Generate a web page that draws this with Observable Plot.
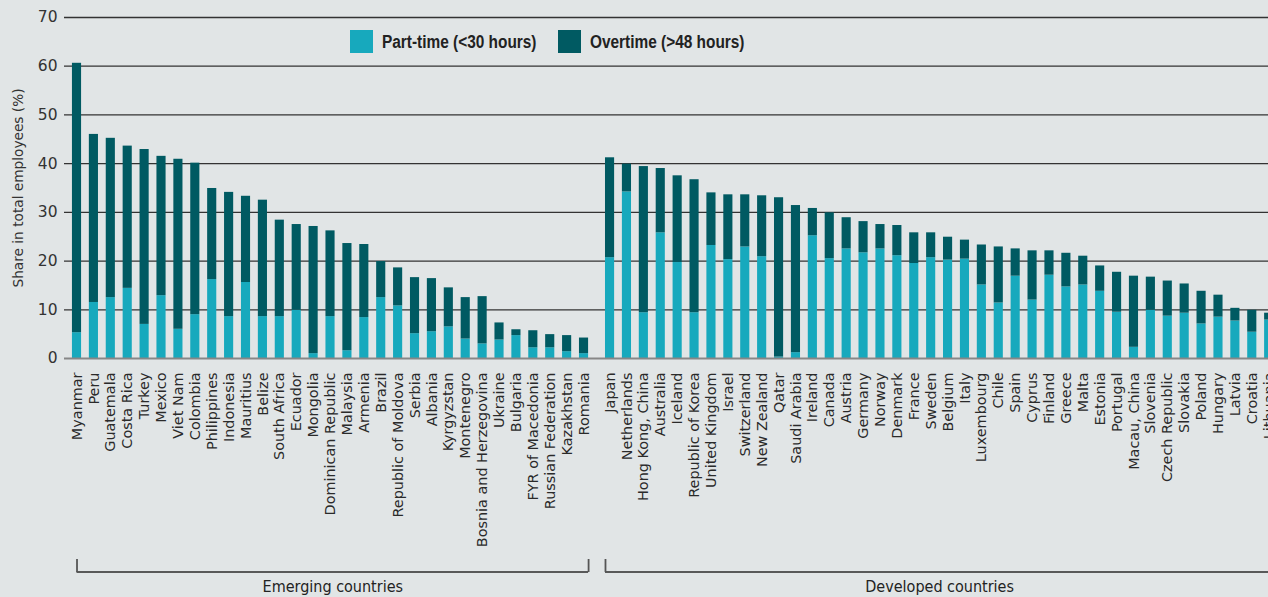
<!DOCTYPE html>
<html>
<head>
<meta charset="utf-8">
<script src="https://cdn.jsdelivr.net/npm/d3@7"></script>
<script src="https://cdn.jsdelivr.net/npm/@observablehq/plot@0.6"></script>
<style>
html, body { margin: 0; padding: 0; background: #e1e5e6; }
#wrap { position: relative; width: 1268px; height: 597px; overflow: hidden; background: #e1e5e6; }
#legend { position: absolute; left: 350px; top: 30px; display: flex; align-items: center; z-index: 2;
  font-family: "Liberation Sans", Arial, sans-serif; font-weight: bold; font-size: 18.8px; color: #222; white-space: nowrap; }
#legend .item { display: flex; align-items: center; margin-right: 21px; }
#legend .sw { width: 23px; height: 23px; margin-right: 9px; flex: none; }
#legend .lab { display: inline-block; transform: scaleX(0.82); transform-origin: 0 50%; }
</style>
</head>
<body>
<div id="wrap"><div id="legend"></div></div>
<script>
const emerging = ["Myanmar","Peru","Guatemala","Costa Rica","Turkey","Mexico","Viet Nam","Colombia","Philippines","Indonesia","Mauritius","Belize","South Africa","Ecuador","Mongolia","Dominican Republic","Malaysia","Armenia","Brazil","Republic of Moldova","Serbia","Albania","Kyrgyzstan","Montenegro","Bosnia and Herzegovina","Ukraine","Bulgaria","FYR of Macedonia","Russian Federation","Kazakhstan","Romania"];
const emergingPartTime = [5.3,11.5,12.5,14.4,7.0,12.9,6.0,9.0,16.2,8.6,15.6,8.6,8.6,9.9,1.0,8.6,1.6,8.4,12.5,10.8,5.1,5.5,6.5,4.0,3.0,3.8,4.7,2.2,2.2,1.4,1.0];
const emergingOvertime = [55.3,34.5,32.7,29.2,35.9,28.6,34.9,31.1,18.7,25.5,17.7,23.9,19.8,17.6,26.1,17.6,22.0,15.0,7.4,7.8,11.5,10.9,8.0,8.5,9.7,3.5,1.2,3.5,2.7,3.3,3.2];

const developed = ["Japan","Netherlands","Hong Kong, China","Australia","Iceland","Republic of Korea","United Kingdom","Israel","Switzerland","New Zealand","Qatar","Saudi Arabia","Ireland","Canada","Austria","Germany","Norway","Denmark","France","Sweden","Belgium","Italy","Luxembourg","Chile","Spain","Cyprus","Finland","Greece","Malta","Estonia","Portugal","Macau, China","Slovenia","Czech Republic","Slovakia","Poland","Hungary","Latvia","Croatia","Lithuania"];
const developedPartTime = [20.7,34.2,9.4,25.8,19.7,9.4,23.2,20.3,22.9,20.9,0.3,1.2,25.2,20.5,22.5,21.7,22.5,21.1,19.5,20.7,20.2,20.4,15.1,11.4,16.9,12.0,17.1,14.7,15.1,13.8,9.5,2.3,9.9,8.7,9.3,7.1,8.5,7.7,5.4,7.9];
const developedOvertime = [20.5,5.7,30.0,13.2,17.8,27.3,10.8,13.3,10.7,12.5,32.7,30.2,5.6,9.4,6.4,6.4,5.0,6.2,6.3,5.1,4.7,3.9,8.2,11.5,5.6,10.1,5.0,6.9,5.9,5.2,8.2,14.6,6.8,7.2,6.0,6.7,4.5,2.6,4.5,1.4];

const groupNames = ["Emerging countries", "Developed countries"];
const seriesNames = ["Part-time (<30 hours)", "Overtime (>48 hours)"];
const seriesColors = ["#17a9bd", "#005a62"];
const yTicks = [0, 10, 20, 30, 40, 50, 60, 70];

// layout constants (not data)
const groupGap = 0.54;   // extra space between the two groups, in bar steps
const half = 0.27;       // half bar width, in bar steps

const groups = [
  {name: groupNames[0], countries: emerging, pt: emergingPartTime, ot: emergingOvertime},
  {name: groupNames[1], countries: developed, pt: developedPartTime, ot: developedOvertime}
];

const rows = [];
const bars = [];
const brackets = [];
let offset = 0;
groups.forEach((g, gi) => {
  const start = offset;
  g.countries.forEach((c, i) => {
    const pos = offset + i;
    rows.push({country: c, pos});
    const pt = g.pt[i], ot = g.ot[i];
    bars.push({country: c, pos, series: seriesNames[0], y1: 0, y2: pt});
    bars.push({country: c, pos, series: seriesNames[1], y1: pt, y2: pt + ot});
  });
  const end = offset + g.countries.length - 1;
  const x1 = gi === 0 ? start : start - half;
  const x2 = end + half;
  brackets.push({name: g.name, x1, x2, mid: (x1 + x2) / 2});
  offset = end + 1 + groupGap;
});
const bracketEnds = brackets.flatMap(b => [{x: b.x1}, {x: b.x2}]);

const chart = Plot.plot({
  width: 1268,
  height: 597,
  marginLeft: 64,
  marginRight: 0,
  marginTop: 17,
  marginBottom: 239,
  x: {type: "linear", domain: [-0.74, 70.5], axis: null},
  y: {domain: [0, 70], axis: null},
  color: {domain: seriesNames, range: seriesColors},
  style: {background: "#e1e5e6", fontFamily: "'DejaVu Sans', sans-serif", color: "#333", overflow: "hidden"},
  marks: [
    Plot.gridY(yTicks.filter(d => d > 0), {stroke: "#333", strokeOpacity: 1, strokeWidth: 1.3}),
    Plot.rectY(bars, {x1: d => d.pos - half, x2: d => d.pos + half, y1: "y1", y2: "y2", fill: "series"}),
    Plot.ruleY([0], {stroke: "#878787", strokeWidth: 2.2}),
    Plot.axisY(yTicks, {tickSize: 0, tickPadding: 7, fontSize: 15.5, label: null, fill: "#333"}),
    Plot.axisY({ticks: [], tickSize: 0, label: "Share in total employees (%)", labelArrow: "none", labelAnchor: "center", labelOffset: 51, fontSize: 13.7, fill: "#333"}),
    Plot.text(rows, {x: "pos", y: 0, text: "country", rotate: -90, textAnchor: "end", lineAnchor: "middle", dy: 14, fontSize: 14.4, fill: "#2a2a2a", fontFamily: "'DejaVu Sans', sans-serif"}),
    Plot.ruleY(brackets, {x1: "x1", x2: "x2", y: 0, dy: 213.5, stroke: "#2a2a2a", strokeWidth: 1.4}),
    Plot.ruleX(bracketEnds, {x: "x", y1: 0, y2: 0, dy: 201, insetBottom: -13, stroke: "#555", strokeWidth: 1.8}),
    Plot.text(brackets, {x: "mid", y: 0, text: "name", dy: 222, lineAnchor: "top", fontSize: 16, fill: "#222", fontFamily: "'DejaVu Sans Condensed', 'DejaVu Sans', sans-serif", fontStretch: "condensed"})
  ]
});

const wrap = document.getElementById("wrap");
wrap.insertBefore(chart, wrap.firstChild);

const legend = d3.select("#legend");
seriesNames.forEach((s, i) => {
  const item = legend.append("div").attr("class", "item");
  item.append("div").attr("class", "sw").style("background", seriesColors[i]);
  const lab = item.append("span").attr("class", "lab").text(s);
  const w = lab.node().offsetWidth;
  lab.style("margin-right", `${-w * 0.18}px`);
});
</script>
</body>
</html>
